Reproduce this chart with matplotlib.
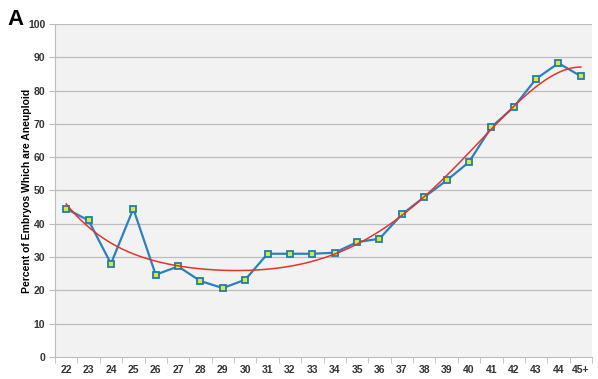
import numpy as np
import matplotlib.pyplot as plt

plt.rcParams['font.family'] = ['Liberation Sans', 'DejaVu Sans']

# maternal age categories and aneuploidy rate (%)
ages = ['22', '23', '24', '25', '26', '27', '28', '29', '30', '31', '32', '33',
        '34', '35', '36', '37', '38', '39', '40', '41', '42', '43', '44', '45+']
pct_aneuploid = [44.5, 41.0, 28.0, 44.5, 24.7, 27.2, 22.8, 20.7, 23.2, 31.0, 31.0, 31.0,
                 31.3, 34.5, 35.5, 42.8, 48.0, 53.0, 58.5, 69.0, 75.0, 83.5, 88.2, 84.3]
y_ticks = [0, 10, 20, 30, 40, 50, 60, 70, 80, 90, 100]

x = np.arange(len(ages))

# polynomial trendline (like Excel's), order 5
coef = np.polyfit(x, pct_aneuploid, 5)
xs = np.linspace(0, len(ages) - 1, 200)
trend = np.polyval(coef, xs)

fig = plt.figure(figsize=(5.98, 3.79), dpi=100)
ax = fig.add_axes([0.092, 0.058, 0.898, 0.879])
ax.set_facecolor('#f2f2f2')

for t in y_ticks[1:]:
    ax.axhline(t, color='#bdbdbd', linewidth=0.9, zorder=1)

ax.plot(x, pct_aneuploid, color='#2b80c0', linewidth=1.6, marker='s', markersize=5,
        markerfacecolor='#d8e83c', markeredgecolor='#1f7fa8', markeredgewidth=1.3, zorder=3)
ax.plot(xs, trend, color='#e8332a', linewidth=1.1, zorder=4)

ax.set_xlim(-0.5, len(ages) - 0.5)
ax.set_ylim(0, 100)
ax.set_yticks(y_ticks)
ax.set_yticklabels([str(t) for t in y_ticks], fontsize=7.5, fontweight='bold', color='#333333')
ax.set_xticks(x)
ax.set_xticklabels(ages, fontsize=7.5, fontweight='bold', color='#333333')
ax.set_xticks(np.arange(-0.5, len(ages)), minor=True)
ax.tick_params(axis='x', which='major', length=0, pad=6)
ax.tick_params(axis='x', which='minor', length=4, color='#bdbdbd')
ax.tick_params(axis='y', length=4, color='#bdbdbd', pad=3)

for s in ['top', 'right']:
    ax.spines[s].set_visible(False)
ax.spines['left'].set_color('#bdbdbd')
ax.spines['bottom'].set_color('#bdbdbd')

ax.set_ylabel('Percent of Embryos Which are Aneuploid', fontsize=7.5, fontweight='bold')
ax.yaxis.set_label_coords(-0.042, 0.5)
fig.text(0.013, 0.935, 'A', fontsize=16, fontweight='bold')

fig.savefig('out.png', dpi=100)
